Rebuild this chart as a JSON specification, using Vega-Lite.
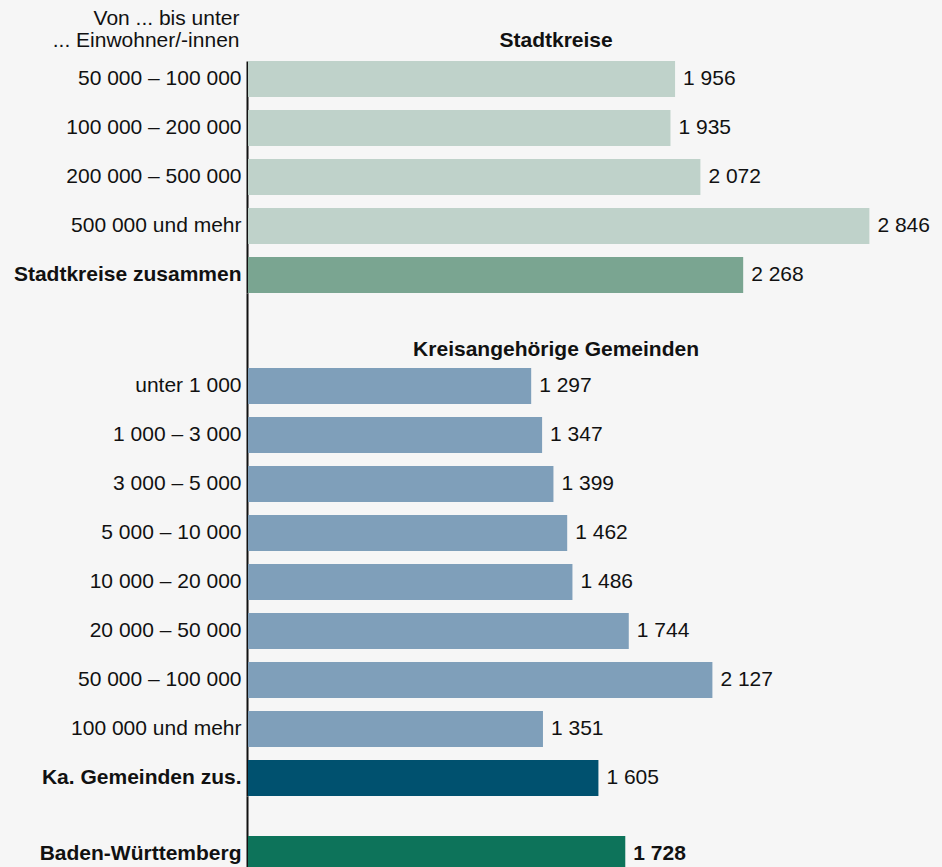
{
  "$schema": "https://vega.github.io/schema/vega-lite/v6.json",
  "background": "#f6f6f6",
  "padding": {"left": 13, "top": 7, "right": 12, "bottom": 0},
  "config": {
    "view": {"stroke": null},
    "font": "Liberation Sans",
    "text": {"font": "Liberation Sans", "fontSize": 21, "color": "#111111"}
  },
  "data": {
    "values": [
      {"gruppe": "SK", "kategorie": "50 000 – 100 000", "wert": 1956, "typ": "Stadtkreise"},
      {"gruppe": "SK", "kategorie": "100 000 – 200 000", "wert": 1935, "typ": "Stadtkreise"},
      {"gruppe": "SK", "kategorie": "200 000 – 500 000", "wert": 2072, "typ": "Stadtkreise"},
      {"gruppe": "SK", "kategorie": "500 000 und mehr", "wert": 2846, "typ": "Stadtkreise"},
      {"gruppe": "SK", "kategorie": "Stadtkreise zusammen", "wert": 2268, "typ": "Stadtkreise zusammen"},
      {"gruppe": "KG", "kategorie": "unter 1 000", "wert": 1297, "typ": "Gemeinden"},
      {"gruppe": "KG", "kategorie": "1 000 – 3 000", "wert": 1347, "typ": "Gemeinden"},
      {"gruppe": "KG", "kategorie": "3 000 – 5 000", "wert": 1399, "typ": "Gemeinden"},
      {"gruppe": "KG", "kategorie": "5 000 – 10 000", "wert": 1462, "typ": "Gemeinden"},
      {"gruppe": "KG", "kategorie": "10 000 – 20 000", "wert": 1486, "typ": "Gemeinden"},
      {"gruppe": "KG", "kategorie": "20 000 – 50 000", "wert": 1744, "typ": "Gemeinden"},
      {"gruppe": "KG", "kategorie": "50 000 – 100 000", "wert": 2127, "typ": "Gemeinden"},
      {"gruppe": "KG", "kategorie": "100 000 und mehr", "wert": 1351, "typ": "Gemeinden"},
      {"gruppe": "KG", "kategorie": "Ka. Gemeinden zus.", "wert": 1605, "typ": "Gemeinden zusammen"},
      {"gruppe": "BW", "kategorie": "Baden-Württemberg", "wert": 1728, "typ": "Land"}
    ]
  },
  "transform": [
    {"calculate": "replace(format(datum.wert, ','), ',', ' ')", "as": "wert_text"}
  ],
  "spacing": 0,
  "bounds": "flush",
  "resolve": {"scale": {"y": "independent"}},
  "vconcat": [
    {
      "width": 655,
      "height": 232,
      "transform": [{"filter": "datum.gruppe === 'SK'"}],
      "encoding": {
        "y": {
          "field": "kategorie", "type": "nominal", "sort": null,
          "scale": {"paddingInner": 0.265, "paddingOuter": 0},
          "axis": {
            "title": ["Von ... bis unter", "... Einwohner/-innen"],
            "titleAngle": 0, "titleAlign": "right", "titleBaseline": "alphabetic",
            "titleX": -8, "titleY": -37, "titleFontWeight": "normal", "titleFontSize": 21,
            "titleLineHeight": 22, "titleColor": "#111111", "titleFont": "Liberation Sans",
            "ticks": false, "domainColor": "#111111", "domainWidth": 2, "offset": 1,
            "labelPadding": 6, "labelFontSize": 21, "labelLimit": 400, "labelColor": "#111111", "labelFont": "Liberation Sans",
            "labelFontWeight": {"condition": {"test": "datum.label === 'Stadtkreise zusammen'", "value": "bold"}, "value": "normal"}
          }
        },
        "x": {"field": "wert", "type": "quantitative", "scale": {"domain": [0, 3000]}, "axis": null}
      },
      "layer": [
        {
          "mark": {"type": "bar"},
          "encoding": {
            "color": {"field": "typ", "type": "nominal", "legend": null,
              "scale": {"domain": ["Stadtkreise", "Stadtkreise zusammen", "Gemeinden", "Gemeinden zusammen", "Land"],
                        "range": ["#bfd2ca", "#7aa591", "#7f9fba", "#00516f", "#0d735a"]}}
          }
        },
        {
          "mark": {"type": "text", "align": "left", "dx": 8, "baseline": "middle"},
          "encoding": {"text": {"field": "wert_text"}}
        },
        {
          "transform": [{"filter": "datum.kategorie === '50 000 – 100 000'"}],
          "mark": {"type": "text", "text": "Stadtkreise", "fontWeight": "bold", "fontSize": 21, "align": "center", "baseline": "alphabetic", "dy": -32},
          "encoding": {"x": {"datum": 1411}}
        }
      ]
    },
    {
      "width": 655,
      "height": 503,
      "transform": [{"filter": "datum.gruppe === 'KG'"}],
      "encoding": {
        "y": {
          "field": "kategorie", "type": "nominal", "sort": null,
          "scale": {"paddingInner": 0.265, "paddingOuter": 0.765, "align": 1},
          "axis": {
            "title": null,
            "ticks": false, "domainColor": "#111111", "domainWidth": 2, "offset": 1,
            "labelPadding": 6, "labelFontSize": 21, "labelLimit": 400, "labelColor": "#111111", "labelFont": "Liberation Sans",
            "labelFontWeight": {"condition": {"test": "datum.label === 'Ka. Gemeinden zus.'", "value": "bold"}, "value": "normal"}
          }
        },
        "x": {"field": "wert", "type": "quantitative", "scale": {"domain": [0, 3000]}, "axis": null}
      },
      "layer": [
        {
          "mark": {"type": "bar"},
          "encoding": {
            "color": {"field": "typ", "type": "nominal", "legend": null,
              "scale": {"domain": ["Stadtkreise", "Stadtkreise zusammen", "Gemeinden", "Gemeinden zusammen", "Land"],
                        "range": ["#bfd2ca", "#7aa591", "#7f9fba", "#00516f", "#0d735a"]}}
          }
        },
        {
          "mark": {"type": "text", "align": "left", "dx": 8, "baseline": "middle"},
          "encoding": {"text": {"field": "wert_text"}}
        },
        {
          "transform": [{"filter": "datum.kategorie === 'unter 1 000'"}],
          "mark": {"type": "text", "text": "Kreisangehörige Gemeinden", "fontWeight": "bold", "fontSize": 21, "align": "center", "baseline": "alphabetic", "dy": -30},
          "encoding": {"x": {"datum": 1411}}
        }
      ]
    },
    {
      "width": 655,
      "height": 76,
      "transform": [{"filter": "datum.gruppe === 'BW'"}],
      "encoding": {
        "y": {
          "field": "kategorie", "type": "nominal", "sort": null,
          "scale": {"paddingInner": 0.265, "paddingOuter": 0.408, "align": 1},
          "axis": {
            "title": null,
            "ticks": false, "domainColor": "#111111", "domainWidth": 2, "offset": 1,
            "labelPadding": 6, "labelFontSize": 21, "labelLimit": 400, "labelColor": "#111111", "labelFont": "Liberation Sans",
            "labelFontWeight": "bold"
          }
        },
        "x": {"field": "wert", "type": "quantitative", "scale": {"domain": [0, 3000]}, "axis": null}
      },
      "layer": [
        {
          "mark": {"type": "bar"},
          "encoding": {
            "color": {"field": "typ", "type": "nominal", "legend": null,
              "scale": {"domain": ["Stadtkreise", "Stadtkreise zusammen", "Gemeinden", "Gemeinden zusammen", "Land"],
                        "range": ["#bfd2ca", "#7aa591", "#7f9fba", "#00516f", "#0d735a"]}}
          }
        },
        {
          "mark": {"type": "text", "align": "left", "dx": 8, "baseline": "middle", "fontWeight": "bold"},
          "encoding": {"text": {"field": "wert_text"}}
        }
      ]
    }
  ]
}
